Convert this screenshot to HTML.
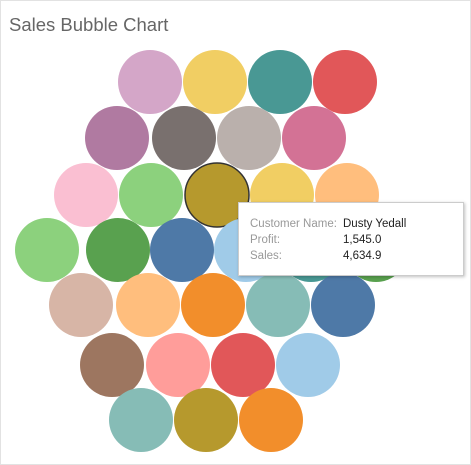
<!DOCTYPE html>
<html><head><meta charset="utf-8"><style>
body{margin:0;width:471px;height:465px;background:#fff;overflow:hidden;font-family:"Liberation Sans",sans-serif}
#frame{position:absolute;left:0;top:0;width:469px;height:463px;border:1px solid #e2e2e2}
#title{position:absolute;left:9px;top:14px;font-size:18.5px;color:#666}
#tip{position:absolute;left:238px;top:202px;width:224px;height:72px;background:#fff;border:1px solid #ccc;box-shadow:1px 1px 3px rgba(0,0,0,.25);font-size:11.5px;color:#999}
.r{position:absolute;left:11px}
.v{position:absolute;left:104px;color:#222}
</style></head><body>
<div id="frame"></div>
<div id="title">Sales Bubble Chart</div>
<svg id="chart" width="471" height="465" style="position:absolute;left:0;top:0"></svg>
<div id="tip">
<div class="r" style="top:15px">Customer Name:</div><div class="v" style="top:15px">Dusty Yedall</div>
<div class="r" style="top:31px">Profit:</div><div class="v" style="top:31px">1,545.0</div>
<div class="r" style="top:47px">Sales:</div><div class="v" style="top:47px">4,634.9</div>
</div>
<script>
const bubbleX=[150,215,280,345,117,184,249,314,86,151,217,282,347,47,118,182,246,311,376,81,148,213,278,343,112,178,243,308,141,206,271];
const bubbleY=[82,82,82,82,138,138,138,138,195,195,195,195,195,250,250,250,250,250,250,305,305,305,305,305,365,365,365,365,420,420,420];
const bubbleColors=["#d4a6c8","#f1ce63","#499894","#e15759","#b07aa1","#79706e","#bab0ac","#d37295","#fabfd2","#8cd17d","#b6992d","#f1ce63","#ffbe7d","#8cd17d","#59a14f","#4e79a7","#a0cbe8","#499894","#59a14f","#d7b5a6","#ffbe7d","#f28e2b","#86bcb6","#4e79a7","#9d7660","#ff9d9a","#e15759","#a0cbe8","#86bcb6","#b6992d","#f28e2b"];
const bubbleR=32;
const svg=document.getElementById('chart');
bubbleX.forEach((x,i)=>{
 const c=document.createElementNS('http://www.w3.org/2000/svg','circle');
 c.setAttribute('cx',x);c.setAttribute('cy',bubbleY[i]);c.setAttribute('r',bubbleR);
 c.setAttribute('fill',bubbleColors[i]);
 if(i===10){c.setAttribute('stroke','#333');c.setAttribute('stroke-width','1.5');}
 
 
 svg.appendChild(c);
});
</script>
</body></html>
